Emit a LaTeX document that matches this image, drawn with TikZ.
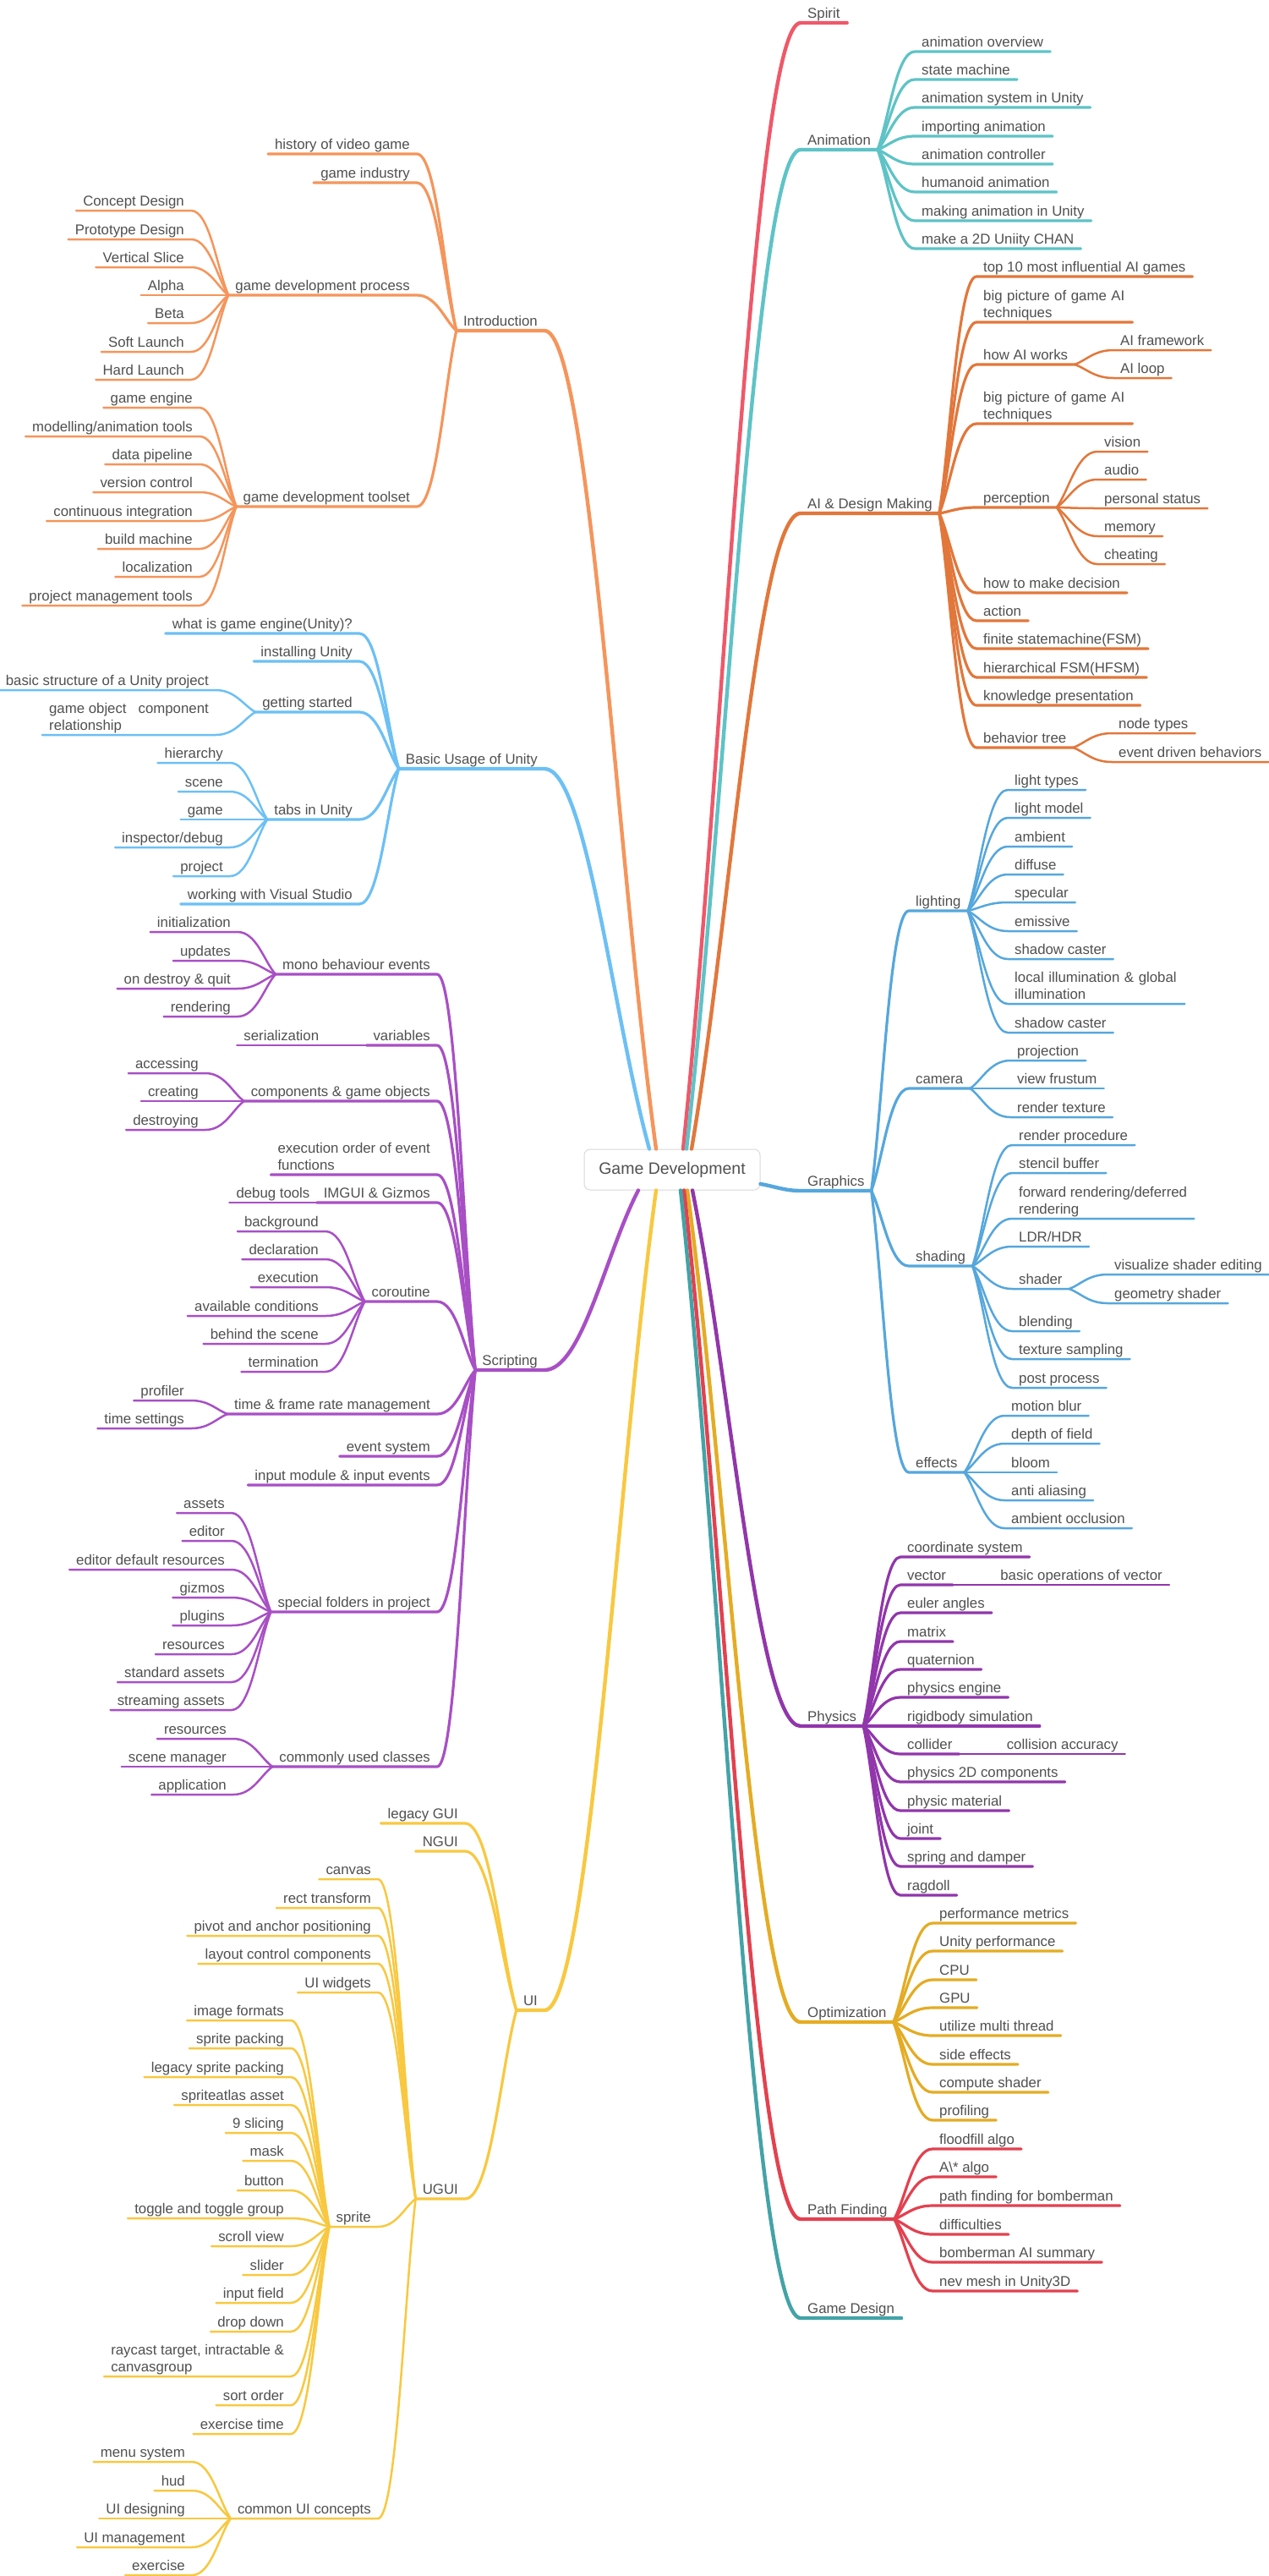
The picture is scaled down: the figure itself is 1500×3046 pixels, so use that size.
\documentclass[tikz,border=0pt]{standalone}
\usepackage{fontspec}
\setmainfont{Liberation Sans}
\usepackage{xcolor}
\usepackage{tikz}
\usetikzlibrary{calc,positioning}
\definecolor{MapInk}{HTML}{505050}
\definecolor{MapFrame}{HTML}{DADADA}
\definecolor{IntroOrange}{HTML}{F5955B}
\definecolor{UnityBlue}{HTML}{6CC0F4}
\definecolor{ScriptPurple}{HTML}{A84FC5}
\definecolor{UiYellow}{HTML}{F8C840}
\definecolor{SpiritRed}{HTML}{EF5869}
\definecolor{AnimTeal}{HTML}{5EC3C6}
\definecolor{AiOrange}{HTML}{E2773B}
\definecolor{GfxBlue}{HTML}{55A7DC}
\definecolor{PhysPurple}{HTML}{9136AB}
\definecolor{OptGold}{HTML}{E4AC24}
\definecolor{PathRed}{HTML}{E3414F}
\definecolor{DesignTeal}{HTML}{43A3A7}
\newcommand{\lastdepth}{\rule[-5pt]{0pt}{5pt}}

\begin{document}
\begin{tikzpicture}[
  x=1pt, y=-1pt,
  topic/.style={font=\fontsize{16.8}{20}\selectfont, text=MapInk, inner xsep=8pt, inner ysep=0pt},
  oneline/.style={topic, text height=12pt, text depth=5pt},
  twoline/.style={topic, align=left},
  rnode/.style={oneline, anchor=south west},
  lnode/.style={oneline, anchor=south east},
  rtwo/.style={twoline, anchor=south west},
  ltwo/.style={twoline, anchor=south east},
  rootbox/.style={draw=MapFrame, line width=1pt, rounded corners=7pt, fill=white, font=\fontsize{19.5}{23}\selectfont, text=MapInk, minimum width=208pt, minimum height=48pt},
  trunkw/.style={line width=4.4pt, line cap=round, line join=round},
  branchw/.style={line width=3.2pt, line cap=round, line join=round},
  leafw/.style={line width=2.5pt, line cap=round, line join=round},
  bough/.style={to path={.. controls ($(\tikztostart)!0.35!(\tikztotarget)$) and ($(\tikztotarget)!0.4!(\tikztostart|-\tikztotarget)$) .. (\tikztotarget)}},
  twig/.style={to path={.. controls ($(\tikztostart)!0.3!(\tikztotarget)$) and ($(\tikztotarget)!0.5!(\tikztostart|-\tikztotarget)$) .. (\tikztotarget)}}
]
  \fill[white] (0,0) rectangle (1500,3046);
  \useasboundingbox (0,0) rectangle (1500,3046);

  \node[rootbox] (root) at (795,1383) {Game Development};
  \coordinate (basicsFoot) at ([xshift=-27pt]root.north);
  \coordinate (introFoot) at ([xshift=-19pt]root.north);
  \coordinate (spiritFoot) at ([xshift=13pt]root.north);
  \coordinate (animFoot) at ([xshift=17pt]root.north);
  \coordinate (aiFoot) at ([xshift=23pt]root.north);
  \coordinate (gfxFoot) at ([yshift=-17pt]root.east);
  \coordinate (scriptFoot) at ([xshift=-40pt]root.south);
  \coordinate (uiFoot) at ([xshift=-19pt]root.south);
  \coordinate (designFoot) at ([xshift=10pt]root.south);
  \coordinate (pathFoot) at ([xshift=14pt]root.south);
  \coordinate (optFoot) at ([xshift=18pt]root.south);
  \coordinate (physFoot) at ([xshift=24pt]root.south);

  % Introduction
  \node[lnode] (intro) at (644,391) {Introduction};
  \node[lnode] (history) at (493,182) {history of video game};
  \node[lnode] (industry) at (493,216) {game industry};
  \node[lnode] (process) at (493,349) {game development process};
  \node[lnode] (concept) at (226,249) {Concept Design};
  \node[lnode] (prototype) at (226,283) {Prototype Design};
  \node[lnode] (vslice) at (226,316) {Vertical Slice};
  \node[lnode] (alpha) at (226,349) {Alpha};
  \node[lnode] (beta) at (226,382) {Beta};
  \node[lnode] (soft) at (226,416) {Soft Launch};
  \node[lnode] (hard) at (226,449) {Hard Launch};
  \node[lnode] (toolset) at (493,599) {game development toolset};
  \node[lnode] (engine) at (236,482) {game engine};
  \node[lnode] (modelling) at (236,516) {modelling/animation tools};
  \node[lnode] (pipeline) at (236,549) {data pipeline};
  \node[lnode] (version) at (236,582) {version control};
  \node[lnode] (ci) at (236,616) {continuous integration};
  \node[lnode] (buildm) at (236,649) {build machine};
  \node[lnode] (localize) at (236,682) {localization};
  \node[lnode] (pmtools) at (236,716) {project management tools};

  \draw[trunkw, IntroOrange] (introFoot) to[bough] (intro.south east) -- (intro.south west);
  \draw[branchw, IntroOrange] (intro.south west) to[twig] (history.south east) -- (history.south west);
  \draw[branchw, IntroOrange] (intro.south west) to[twig] (industry.south east) -- (industry.south west);
  \draw[branchw, IntroOrange] (intro.south west) to[twig] (process.south east) -- (process.south west);
  \draw[branchw, IntroOrange] (intro.south west) to[twig] (toolset.south east) -- (toolset.south west);
  \draw[leafw, IntroOrange] (process.south west) to[twig] (concept.south east) -- (concept.south west);
  \draw[leafw, IntroOrange] (process.south west) to[twig] (prototype.south east) -- (prototype.south west);
  \draw[leafw, IntroOrange] (process.south west) to[twig] (vslice.south east) -- (vslice.south west);
  \draw[leafw, IntroOrange] (process.south west) to[twig] (alpha.south east) -- (alpha.south west);
  \draw[leafw, IntroOrange] (process.south west) to[twig] (beta.south east) -- (beta.south west);
  \draw[leafw, IntroOrange] (process.south west) to[twig] (soft.south east) -- (soft.south west);
  \draw[leafw, IntroOrange] (process.south west) to[twig] (hard.south east) -- (hard.south west);
  \draw[leafw, IntroOrange] (toolset.south west) to[twig] (engine.south east) -- (engine.south west);
  \draw[leafw, IntroOrange] (toolset.south west) to[twig] (modelling.south east) -- (modelling.south west);
  \draw[leafw, IntroOrange] (toolset.south west) to[twig] (pipeline.south east) -- (pipeline.south west);
  \draw[leafw, IntroOrange] (toolset.south west) to[twig] (version.south east) -- (version.south west);
  \draw[leafw, IntroOrange] (toolset.south west) to[twig] (ci.south east) -- (ci.south west);
  \draw[leafw, IntroOrange] (toolset.south west) to[twig] (buildm.south east) -- (buildm.south west);
  \draw[leafw, IntroOrange] (toolset.south west) to[twig] (localize.south east) -- (localize.south west);
  \draw[leafw, IntroOrange] (toolset.south west) to[twig] (pmtools.south east) -- (pmtools.south west);

  % Basic Usage of Unity
  \node[lnode] (basics) at (644,909) {Basic Usage of Unity};
  \node[lnode] (whatis) at (425,749) {what is game engine(Unity)?};
  \node[lnode] (install) at (425,782) {installing Unity};
  \node[lnode] (started) at (425,842) {getting started};
  \node[lnode] (structure) at (255,816) {basic structure of a Unity project};
  \node[ltwo] (gocomp) at (255,869) {game object\hspace{14pt}component\\relationship\lastdepth};
  \node[lnode] (tabs) at (425,969) {tabs in Unity};
  \node[lnode] (hierarchy) at (272,902) {hierarchy};
  \node[lnode] (scenetab) at (272,936) {scene};
  \node[lnode] (gametab) at (272,969) {game};
  \node[lnode] (inspector) at (272,1002) {inspector/debug};
  \node[lnode] (projecttab) at (272,1036) {project};
  \node[lnode] (vstudio) at (425,1069) {working with Visual Studio};

  \draw[trunkw, UnityBlue] (basicsFoot) to[bough] (basics.south east) -- (basics.south west);
  \draw[branchw, UnityBlue] (basics.south west) to[twig] (whatis.south east) -- (whatis.south west);
  \draw[branchw, UnityBlue] (basics.south west) to[twig] (install.south east) -- (install.south west);
  \draw[branchw, UnityBlue] (basics.south west) to[twig] (started.south east) -- (started.south west);
  \draw[branchw, UnityBlue] (basics.south west) to[twig] (tabs.south east) -- (tabs.south west);
  \draw[branchw, UnityBlue] (basics.south west) to[twig] (vstudio.south east) -- (vstudio.south west);
  \draw[leafw, UnityBlue] (started.south west) to[twig] (structure.south east) -- (structure.south west);
  \draw[leafw, UnityBlue] (started.south west) to[twig] (gocomp.south east) -- (gocomp.south west);
  \draw[leafw, UnityBlue] (tabs.south west) to[twig] (hierarchy.south east) -- (hierarchy.south west);
  \draw[leafw, UnityBlue] (tabs.south west) to[twig] (scenetab.south east) -- (scenetab.south west);
  \draw[leafw, UnityBlue] (tabs.south west) to[twig] (gametab.south east) -- (gametab.south west);
  \draw[leafw, UnityBlue] (tabs.south west) to[twig] (inspector.south east) -- (inspector.south west);
  \draw[leafw, UnityBlue] (tabs.south west) to[twig] (projecttab.south east) -- (projecttab.south west);

  % Scripting
  \node[lnode] (scripting) at (644,1620) {Scripting};
  \node[lnode] (mono) at (517,1152) {mono behaviour events};
  \node[lnode] (init) at (281,1102) {initialization};
  \node[lnode] (updates) at (281,1136) {updates};
  \node[lnode] (ondestroy) at (281,1169) {on destroy \& quit};
  \node[lnode] (rendering) at (281,1202) {rendering};
  \node[lnode] (variables) at (517,1236) {variables};
  \node[lnode, left=48pt of variables.south west, anchor=south east] (serial) {serialization};
  \node[lnode] (components) at (517,1302) {components \& game objects};
  \node[lnode] (accessing) at (243,1269) {accessing};
  \node[lnode] (creating) at (243,1302) {creating};
  \node[lnode] (destroying) at (243,1336) {destroying};
  \node[ltwo] (execorder) at (517,1389) {execution order of event\\functions\lastdepth};
  \node[lnode] (imgui) at (517,1422) {IMGUI \& Gizmos};
  \node[lnode] (debugtools) at (imgui.south west) {debug tools};
  \node[lnode] (coroutine) at (517,1539) {coroutine};
  \node[lnode] (background) at (385,1456) {background};
  \node[lnode] (declaration) at (385,1489) {declaration};
  \node[lnode] (execution) at (385,1522) {execution};
  \node[lnode] (conditions) at (385,1556) {available conditions};
  \node[lnode] (behind) at (385,1589) {behind the scene};
  \node[lnode] (termination) at (385,1622) {termination};
  \node[lnode] (timing) at (517,1672) {time \& frame rate management};
  \node[lnode] (profiler) at (226,1656) {profiler};
  \node[lnode] (timeset) at (226,1689) {time settings};
  \node[lnode] (events) at (517,1722) {event system};
  \node[lnode] (inputmod) at (517,1756) {input module \& input events};
  \node[lnode] (special) at (517,1906) {special folders in project};
  \node[lnode] (assets) at (274,1789) {assets};
  \node[lnode] (editor) at (274,1822) {editor};
  \node[lnode] (editordef) at (274,1856) {editor default resources};
  \node[lnode] (gizmos) at (274,1889) {gizmos};
  \node[lnode] (plugins) at (274,1922) {plugins};
  \node[lnode] (resfolder) at (274,1956) {resources};
  \node[lnode] (stdassets) at (274,1989) {standard assets};
  \node[lnode] (streaming) at (274,2022) {streaming assets};
  \node[lnode] (classes) at (517,2089) {commonly used classes};
  \node[lnode] (resclass) at (276,2056) {resources};
  \node[lnode] (scenemgr) at (276,2089) {scene manager};
  \node[lnode] (application) at (276,2122) {application};

  \draw[trunkw, ScriptPurple] (scriptFoot) to[bough] (scripting.south east) -- (scripting.south west);
  \draw[branchw, ScriptPurple] (scripting.south west) to[twig] (mono.south east) -- (mono.south west);
  \draw[branchw, ScriptPurple] (scripting.south west) to[twig] (variables.south east) -- (variables.south west);
  \draw[branchw, ScriptPurple] (scripting.south west) to[twig] (components.south east) -- (components.south west);
  \draw[branchw, ScriptPurple] (scripting.south west) to[twig] (execorder.south east) -- (execorder.south west);
  \draw[branchw, ScriptPurple] (scripting.south west) to[twig] (imgui.south east) -- (imgui.south west);
  \draw[branchw, ScriptPurple] (scripting.south west) to[twig] (coroutine.south east) -- (coroutine.south west);
  \draw[branchw, ScriptPurple] (scripting.south west) to[twig] (timing.south east) -- (timing.south west);
  \draw[branchw, ScriptPurple] (scripting.south west) to[twig] (events.south east) -- (events.south west);
  \draw[branchw, ScriptPurple] (scripting.south west) to[twig] (inputmod.south east) -- (inputmod.south west);
  \draw[branchw, ScriptPurple] (scripting.south west) to[twig] (special.south east) -- (special.south west);
  \draw[branchw, ScriptPurple] (scripting.south west) to[twig] (classes.south east) -- (classes.south west);
  \draw[leafw, ScriptPurple] (mono.south west) to[twig] (init.south east) -- (init.south west);
  \draw[leafw, ScriptPurple] (mono.south west) to[twig] (updates.south east) -- (updates.south west);
  \draw[leafw, ScriptPurple] (mono.south west) to[twig] (ondestroy.south east) -- (ondestroy.south west);
  \draw[leafw, ScriptPurple] (mono.south west) to[twig] (rendering.south east) -- (rendering.south west);
  \draw[leafw, ScriptPurple] (variables.south west) -- (serial.south east) -- (serial.south west);
  \draw[leafw, ScriptPurple] (components.south west) to[twig] (accessing.south east) -- (accessing.south west);
  \draw[leafw, ScriptPurple] (components.south west) to[twig] (creating.south east) -- (creating.south west);
  \draw[leafw, ScriptPurple] (components.south west) to[twig] (destroying.south east) -- (destroying.south west);
  \draw[leafw, ScriptPurple] (imgui.south west) -- (debugtools.south east) -- (debugtools.south west);
  \draw[leafw, ScriptPurple] (coroutine.south west) to[twig] (background.south east) -- (background.south west);
  \draw[leafw, ScriptPurple] (coroutine.south west) to[twig] (declaration.south east) -- (declaration.south west);
  \draw[leafw, ScriptPurple] (coroutine.south west) to[twig] (execution.south east) -- (execution.south west);
  \draw[leafw, ScriptPurple] (coroutine.south west) to[twig] (conditions.south east) -- (conditions.south west);
  \draw[leafw, ScriptPurple] (coroutine.south west) to[twig] (behind.south east) -- (behind.south west);
  \draw[leafw, ScriptPurple] (coroutine.south west) to[twig] (termination.south east) -- (termination.south west);
  \draw[leafw, ScriptPurple] (timing.south west) to[twig] (profiler.south east) -- (profiler.south west);
  \draw[leafw, ScriptPurple] (timing.south west) to[twig] (timeset.south east) -- (timeset.south west);
  \draw[leafw, ScriptPurple] (special.south west) to[twig] (assets.south east) -- (assets.south west);
  \draw[leafw, ScriptPurple] (special.south west) to[twig] (editor.south east) -- (editor.south west);
  \draw[leafw, ScriptPurple] (special.south west) to[twig] (editordef.south east) -- (editordef.south west);
  \draw[leafw, ScriptPurple] (special.south west) to[twig] (gizmos.south east) -- (gizmos.south west);
  \draw[leafw, ScriptPurple] (special.south west) to[twig] (plugins.south east) -- (plugins.south west);
  \draw[leafw, ScriptPurple] (special.south west) to[twig] (resfolder.south east) -- (resfolder.south west);
  \draw[leafw, ScriptPurple] (special.south west) to[twig] (stdassets.south east) -- (stdassets.south west);
  \draw[leafw, ScriptPurple] (special.south west) to[twig] (streaming.south east) -- (streaming.south west);
  \draw[leafw, ScriptPurple] (classes.south west) to[twig] (resclass.south east) -- (resclass.south west);
  \draw[leafw, ScriptPurple] (classes.south west) to[twig] (scenemgr.south east) -- (scenemgr.south west);
  \draw[leafw, ScriptPurple] (classes.south west) to[twig] (application.south east) -- (application.south west);

  % UI
  \node[lnode] (ui) at (644,2377) {UI};
  \node[lnode] (legacygui) at (550,2156) {legacy GUI};
  \node[lnode] (ngui) at (550,2189) {NGUI};
  \node[lnode] (ugui) at (550,2600) {UGUI};
  \node[lnode] (canvas) at (447,2222) {canvas};
  \node[lnode] (recttf) at (447,2256) {rect transform};
  \node[lnode] (pivot) at (447,2289) {pivot and anchor positioning};
  \node[lnode] (layout) at (447,2322) {layout control components};
  \node[lnode] (widgets) at (447,2356) {UI widgets};
  \node[lnode] (sprite) at (447,2633) {sprite};
  \node[lnode] (imgfmt) at (344,2389) {image formats};
  \node[lnode] (spack) at (344,2422) {sprite packing};
  \node[lnode] (oldpack) at (344,2456) {legacy sprite packing};
  \node[lnode] (atlas) at (344,2489) {spriteatlas asset};
  \node[lnode] (slicing) at (344,2522) {9 slicing};
  \node[lnode] (masknode) at (344,2555) {mask};
  \node[lnode] (button) at (344,2590) {button};
  \node[lnode] (toggle) at (344,2623) {toggle and toggle group};
  \node[lnode] (scroll) at (344,2656) {scroll view};
  \node[lnode] (slider) at (344,2690) {slider};
  \node[lnode] (inputfield) at (344,2723) {input field};
  \node[lnode] (dropdown) at (344,2757) {drop down};
  \node[ltwo] (raycast) at (344,2810) {raycast target, intractable \&\\canvasgroup\lastdepth};
  \node[lnode] (sortorder) at (344,2844) {sort order};
  \node[lnode] (extime) at (344,2878) {exercise time};
  \node[lnode] (uiconcepts) at (447,2978) {common UI concepts};
  \node[lnode] (menu) at (227,2911) {menu system};
  \node[lnode] (hud) at (227,2945) {hud};
  \node[lnode] (uidesign) at (227,2978) {UI designing};
  \node[lnode] (uimanage) at (227,3012) {UI management};
  \node[lnode] (exercise) at (227,3045) {exercise};

  \draw[trunkw, UiYellow] (uiFoot) to[bough] (ui.south east) -- (ui.south west);
  \draw[branchw, UiYellow] (ui.south west) to[twig] (legacygui.south east) -- (legacygui.south west);
  \draw[branchw, UiYellow] (ui.south west) to[twig] (ngui.south east) -- (ngui.south west);
  \draw[branchw, UiYellow] (ui.south west) to[twig] (ugui.south east) -- (ugui.south west);
  \draw[leafw, UiYellow] (ugui.south west) to[twig] (canvas.south east) -- (canvas.south west);
  \draw[leafw, UiYellow] (ugui.south west) to[twig] (recttf.south east) -- (recttf.south west);
  \draw[leafw, UiYellow] (ugui.south west) to[twig] (pivot.south east) -- (pivot.south west);
  \draw[leafw, UiYellow] (ugui.south west) to[twig] (layout.south east) -- (layout.south west);
  \draw[leafw, UiYellow] (ugui.south west) to[twig] (widgets.south east) -- (widgets.south west);
  \draw[leafw, UiYellow] (ugui.south west) to[twig] (sprite.south east) -- (sprite.south west);
  \draw[leafw, UiYellow] (ugui.south west) to[twig] (uiconcepts.south east) -- (uiconcepts.south west);
  \draw[leafw, UiYellow] (sprite.south west) to[twig] (imgfmt.south east) -- (imgfmt.south west);
  \draw[leafw, UiYellow] (sprite.south west) to[twig] (spack.south east) -- (spack.south west);
  \draw[leafw, UiYellow] (sprite.south west) to[twig] (oldpack.south east) -- (oldpack.south west);
  \draw[leafw, UiYellow] (sprite.south west) to[twig] (atlas.south east) -- (atlas.south west);
  \draw[leafw, UiYellow] (sprite.south west) to[twig] (slicing.south east) -- (slicing.south west);
  \draw[leafw, UiYellow] (sprite.south west) to[twig] (masknode.south east) -- (masknode.south west);
  \draw[leafw, UiYellow] (sprite.south west) to[twig] (button.south east) -- (button.south west);
  \draw[leafw, UiYellow] (sprite.south west) to[twig] (toggle.south east) -- (toggle.south west);
  \draw[leafw, UiYellow] (sprite.south west) to[twig] (scroll.south east) -- (scroll.south west);
  \draw[leafw, UiYellow] (sprite.south west) to[twig] (slider.south east) -- (slider.south west);
  \draw[leafw, UiYellow] (sprite.south west) to[twig] (inputfield.south east) -- (inputfield.south west);
  \draw[leafw, UiYellow] (sprite.south west) to[twig] (dropdown.south east) -- (dropdown.south west);
  \draw[leafw, UiYellow] (sprite.south west) to[twig] (raycast.south east) -- (raycast.south west);
  \draw[leafw, UiYellow] (sprite.south west) to[twig] (sortorder.south east) -- (sortorder.south west);
  \draw[leafw, UiYellow] (sprite.south west) to[twig] (extime.south east) -- (extime.south west);
  \draw[leafw, UiYellow] (uiconcepts.south west) to[twig] (menu.south east) -- (menu.south west);
  \draw[leafw, UiYellow] (uiconcepts.south west) to[twig] (hud.south east) -- (hud.south west);
  \draw[leafw, UiYellow] (uiconcepts.south west) to[twig] (uidesign.south east) -- (uidesign.south west);
  \draw[leafw, UiYellow] (uiconcepts.south west) to[twig] (uimanage.south east) -- (uimanage.south west);
  \draw[leafw, UiYellow] (uiconcepts.south west) to[twig] (exercise.south east) -- (exercise.south west);

  % Spirit and Animation
  \node[rnode] (spirit) at (947,27) {Spirit};
  \node[rnode] (anim) at (947,177) {Animation};
  \node[rnode] (animov) at (1082,61) {animation overview};
  \node[rnode] (statem) at (1082,94) {state machine};
  \node[rnode] (animsys) at (1082,127) {animation system in Unity};
  \node[rnode] (animimport) at (1082,161) {importing animation};
  \node[rnode] (animctrl) at (1082,194) {animation controller};
  \node[rnode] (humanoid) at (1082,227) {humanoid animation};
  \node[rnode] (animmake) at (1082,261) {making animation in Unity};
  \node[rnode] (chan) at (1082,294) {make a 2D Uniity CHAN};

  \draw[trunkw, SpiritRed] (spiritFoot) to[bough] (spirit.south west) -- (spirit.south east);
  \draw[trunkw, AnimTeal] (animFoot) to[bough] (anim.south west) -- (anim.south east);
  \draw[branchw, AnimTeal] (anim.south east) to[twig] (animov.south west) -- (animov.south east);
  \draw[branchw, AnimTeal] (anim.south east) to[twig] (statem.south west) -- (statem.south east);
  \draw[branchw, AnimTeal] (anim.south east) to[twig] (animsys.south west) -- (animsys.south east);
  \draw[branchw, AnimTeal] (anim.south east) to[twig] (animimport.south west) -- (animimport.south east);
  \draw[branchw, AnimTeal] (anim.south east) to[twig] (animctrl.south west) -- (animctrl.south east);
  \draw[branchw, AnimTeal] (anim.south east) to[twig] (humanoid.south west) -- (humanoid.south east);
  \draw[branchw, AnimTeal] (anim.south east) to[twig] (animmake.south west) -- (animmake.south east);
  \draw[branchw, AnimTeal] (anim.south east) to[twig] (chan.south west) -- (chan.south east);

  % AI & Design Making
  \node[rnode] (ai) at (947,607) {AI \& Design Making};
  \node[rnode] (topten) at (1155,327) {top 10 most influential AI games};
  \node[rtwo, text width=168pt] (bigpicA) at (1155,381) {big picture of game AI\\techniques\lastdepth};
  \node[rnode] (howai) at (1155,431) {how AI works};
  \node[rnode] (aiframe) at (1317,414) {AI framework};
  \node[rnode] (ailoop) at (1317,447) {AI loop};
  \node[rtwo, text width=168pt] (bigpicB) at (1155,501) {big picture of game AI\\techniques\lastdepth};
  \node[rnode] (perception) at (1155,600) {perception};
  \node[rnode] (vision) at (1298,534) {vision};
  \node[rnode] (audio) at (1298,567) {audio};
  \node[rnode] (status) at (1298,601) {personal status};
  \node[rnode] (memory) at (1298,634) {memory};
  \node[rnode] (cheating) at (1298,667) {cheating};
  \node[rnode] (decision) at (1155,701) {how to make decision};
  \node[rnode] (action) at (1155,734) {action};
  \node[rnode] (fsm) at (1155,767) {finite statemachine(FSM)};
  \node[rnode] (hfsm) at (1155,801) {hierarchical FSM(HFSM)};
  \node[rnode] (knowledge) at (1155,834) {knowledge presentation};
  \node[rnode] (btree) at (1155,884) {behavior tree};
  \node[rnode] (nodetypes) at (1315,867) {node types};
  \node[rnode] (eventdriven) at (1315,901) {event driven behaviors};

  \draw[trunkw, AiOrange] (aiFoot) to[bough] (ai.south west) -- (ai.south east);
  \draw[branchw, AiOrange] (ai.south east) to[twig] (topten.south west) -- (topten.south east);
  \draw[branchw, AiOrange] (ai.south east) to[twig] (bigpicA.south west) -- (bigpicA.south east);
  \draw[branchw, AiOrange] (ai.south east) to[twig] (howai.south west) -- (howai.south east);
  \draw[branchw, AiOrange] (ai.south east) to[twig] (bigpicB.south west) -- (bigpicB.south east);
  \draw[branchw, AiOrange] (ai.south east) to[twig] (perception.south west) -- (perception.south east);
  \draw[branchw, AiOrange] (ai.south east) to[twig] (decision.south west) -- (decision.south east);
  \draw[branchw, AiOrange] (ai.south east) to[twig] (action.south west) -- (action.south east);
  \draw[branchw, AiOrange] (ai.south east) to[twig] (fsm.south west) -- (fsm.south east);
  \draw[branchw, AiOrange] (ai.south east) to[twig] (hfsm.south west) -- (hfsm.south east);
  \draw[branchw, AiOrange] (ai.south east) to[twig] (knowledge.south west) -- (knowledge.south east);
  \draw[branchw, AiOrange] (ai.south east) to[twig] (btree.south west) -- (btree.south east);
  \draw[leafw, AiOrange] (howai.south east) to[twig] (aiframe.south west) -- (aiframe.south east);
  \draw[leafw, AiOrange] (howai.south east) to[twig] (ailoop.south west) -- (ailoop.south east);
  \draw[leafw, AiOrange] (perception.south east) to[twig] (vision.south west) -- (vision.south east);
  \draw[leafw, AiOrange] (perception.south east) to[twig] (audio.south west) -- (audio.south east);
  \draw[leafw, AiOrange] (perception.south east) to[twig] (status.south west) -- (status.south east);
  \draw[leafw, AiOrange] (perception.south east) to[twig] (memory.south west) -- (memory.south east);
  \draw[leafw, AiOrange] (perception.south east) to[twig] (cheating.south west) -- (cheating.south east);
  \draw[leafw, AiOrange] (btree.south east) to[twig] (nodetypes.south west) -- (nodetypes.south east);
  \draw[leafw, AiOrange] (btree.south east) to[twig] (eventdriven.south west) -- (eventdriven.south east);

  % Graphics
  \node[rnode] (graphics) at (947,1408) {Graphics};
  \node[rnode] (lighting) at (1075,1077) {lighting};
  \node[rnode] (lighttypes) at (1192,934) {light types};
  \node[rnode] (lightmodel) at (1192,967) {light model};
  \node[rnode] (ambient) at (1192,1001) {ambient};
  \node[rnode] (diffuse) at (1192,1034) {diffuse};
  \node[rnode] (specular) at (1192,1067) {specular};
  \node[rnode] (emissive) at (1192,1101) {emissive};
  \node[rnode] (shadowA) at (1192,1134) {shadow caster};
  \node[rtwo, text width=193pt] (illum) at (1192,1187) {local illumination \& global\\illumination\lastdepth};
  \node[rnode] (shadowB) at (1192,1221) {shadow caster};
  \node[rnode] (camera) at (1075,1287) {camera};
  \node[rnode] (projection) at (1195,1254) {projection};
  \node[rnode] (frustum) at (1195,1287) {view frustum};
  \node[rnode] (rtexture) at (1195,1321) {render texture};
  \node[rnode] (shading) at (1075,1497) {shading};
  \node[rnode] (renderproc) at (1197,1354) {render procedure};
  \node[rnode] (stencil) at (1197,1387) {stencil buffer};
  \node[rtwo] (forward) at (1197,1441) {forward rendering/deferred\\rendering\lastdepth};
  \node[rnode] (ldr) at (1197,1474) {LDR/HDR};
  \node[rnode] (shader) at (1197,1524) {shader};
  \node[rnode] (visualize) at (1310,1507) {visualize shader editing};
  \node[rnode] (geoshader) at (1310,1541) {geometry shader};
  \node[rnode] (blending) at (1197,1574) {blending};
  \node[rnode] (texsample) at (1197,1607) {texture sampling};
  \node[rnode] (postproc) at (1197,1641) {post process};
  \node[rnode] (effects) at (1075,1741) {effects};
  \node[rnode] (motionblur) at (1188,1674) {motion blur};
  \node[rnode] (dof) at (1188,1707) {depth of field};
  \node[rnode] (bloom) at (1188,1741) {bloom};
  \node[rnode] (antialias) at (1188,1774) {anti aliasing};
  \node[rnode] (ao) at (1188,1807) {ambient occlusion};

  \draw[trunkw, GfxBlue] (gfxFoot) to[bough] (graphics.south west) -- (graphics.south east);
  \draw[branchw, GfxBlue] (graphics.south east) to[twig] (lighting.south west) -- (lighting.south east);
  \draw[branchw, GfxBlue] (graphics.south east) to[twig] (camera.south west) -- (camera.south east);
  \draw[branchw, GfxBlue] (graphics.south east) to[twig] (shading.south west) -- (shading.south east);
  \draw[branchw, GfxBlue] (graphics.south east) to[twig] (effects.south west) -- (effects.south east);
  \draw[leafw, GfxBlue] (lighting.south east) to[twig] (lighttypes.south west) -- (lighttypes.south east);
  \draw[leafw, GfxBlue] (lighting.south east) to[twig] (lightmodel.south west) -- (lightmodel.south east);
  \draw[leafw, GfxBlue] (lighting.south east) to[twig] (ambient.south west) -- (ambient.south east);
  \draw[leafw, GfxBlue] (lighting.south east) to[twig] (diffuse.south west) -- (diffuse.south east);
  \draw[leafw, GfxBlue] (lighting.south east) to[twig] (specular.south west) -- (specular.south east);
  \draw[leafw, GfxBlue] (lighting.south east) to[twig] (emissive.south west) -- (emissive.south east);
  \draw[leafw, GfxBlue] (lighting.south east) to[twig] (shadowA.south west) -- (shadowA.south east);
  \draw[leafw, GfxBlue] (lighting.south east) to[twig] (illum.south west) -- (illum.south east);
  \draw[leafw, GfxBlue] (lighting.south east) to[twig] (shadowB.south west) -- (shadowB.south east);
  \draw[leafw, GfxBlue] (camera.south east) to[twig] (projection.south west) -- (projection.south east);
  \draw[leafw, GfxBlue] (camera.south east) to[twig] (frustum.south west) -- (frustum.south east);
  \draw[leafw, GfxBlue] (camera.south east) to[twig] (rtexture.south west) -- (rtexture.south east);
  \draw[leafw, GfxBlue] (shading.south east) to[twig] (renderproc.south west) -- (renderproc.south east);
  \draw[leafw, GfxBlue] (shading.south east) to[twig] (stencil.south west) -- (stencil.south east);
  \draw[leafw, GfxBlue] (shading.south east) to[twig] (forward.south west) -- (forward.south east);
  \draw[leafw, GfxBlue] (shading.south east) to[twig] (ldr.south west) -- (ldr.south east);
  \draw[leafw, GfxBlue] (shading.south east) to[twig] (shader.south west) -- (shader.south east);
  \draw[leafw, GfxBlue] (shading.south east) to[twig] (blending.south west) -- (blending.south east);
  \draw[leafw, GfxBlue] (shading.south east) to[twig] (texsample.south west) -- (texsample.south east);
  \draw[leafw, GfxBlue] (shading.south east) to[twig] (postproc.south west) -- (postproc.south east);
  \draw[leafw, GfxBlue] (shader.south east) to[twig] (visualize.south west) -- (visualize.south east);
  \draw[leafw, GfxBlue] (shader.south east) to[twig] (geoshader.south west) -- (geoshader.south east);
  \draw[leafw, GfxBlue] (effects.south east) to[twig] (motionblur.south west) -- (motionblur.south east);
  \draw[leafw, GfxBlue] (effects.south east) to[twig] (dof.south west) -- (dof.south east);
  \draw[leafw, GfxBlue] (effects.south east) to[twig] (bloom.south west) -- (bloom.south east);
  \draw[leafw, GfxBlue] (effects.south east) to[twig] (antialias.south west) -- (antialias.south east);
  \draw[leafw, GfxBlue] (effects.south east) to[twig] (ao.south west) -- (ao.south east);

  % Physics
  \node[rnode] (physics) at (947,2041) {Physics};
  \node[rnode] (coords) at (1065,1841) {coordinate system};
  \node[rnode] (vector) at (1065,1874) {vector};
  \node[rnode, right=48pt of vector.south east, anchor=south west] (vecops) {basic operations of vector};
  \node[rnode] (euler) at (1065,1907) {euler angles};
  \node[rnode] (matrixnode) at (1065,1941) {matrix};
  \node[rnode] (quaternion) at (1065,1974) {quaternion};
  \node[rnode] (physengine) at (1065,2007) {physics engine};
  \node[rnode] (rigidbody) at (1065,2041) {rigidbody simulation};
  \node[rnode] (collider) at (1065,2074) {collider};
  \node[rnode, right=48pt of collider.south east, anchor=south west] (accuracy) {collision accuracy};
  \node[rnode] (phys2d) at (1065,2107) {physics 2D components};
  \node[rnode] (physmat) at (1065,2141) {physic material};
  \node[rnode] (joint) at (1065,2174) {joint};
  \node[rnode] (spring) at (1065,2207) {spring and damper};
  \node[rnode] (ragdoll) at (1065,2241) {ragdoll};

  \draw[trunkw, PhysPurple] (physFoot) to[bough] (physics.south west) -- (physics.south east);
  \draw[branchw, PhysPurple] (physics.south east) to[twig] (coords.south west) -- (coords.south east);
  \draw[branchw, PhysPurple] (physics.south east) to[twig] (vector.south west) -- (vector.south east);
  \draw[branchw, PhysPurple] (physics.south east) to[twig] (euler.south west) -- (euler.south east);
  \draw[branchw, PhysPurple] (physics.south east) to[twig] (matrixnode.south west) -- (matrixnode.south east);
  \draw[branchw, PhysPurple] (physics.south east) to[twig] (quaternion.south west) -- (quaternion.south east);
  \draw[branchw, PhysPurple] (physics.south east) to[twig] (physengine.south west) -- (physengine.south east);
  \draw[branchw, PhysPurple] (physics.south east) to[twig] (rigidbody.south west) -- (rigidbody.south east);
  \draw[branchw, PhysPurple] (physics.south east) to[twig] (collider.south west) -- (collider.south east);
  \draw[branchw, PhysPurple] (physics.south east) to[twig] (phys2d.south west) -- (phys2d.south east);
  \draw[branchw, PhysPurple] (physics.south east) to[twig] (physmat.south west) -- (physmat.south east);
  \draw[branchw, PhysPurple] (physics.south east) to[twig] (joint.south west) -- (joint.south east);
  \draw[branchw, PhysPurple] (physics.south east) to[twig] (spring.south west) -- (spring.south east);
  \draw[branchw, PhysPurple] (physics.south east) to[twig] (ragdoll.south west) -- (ragdoll.south east);
  \draw[leafw, PhysPurple] (vector.south east) -- (vecops.south west) -- (vecops.south east);
  \draw[leafw, PhysPurple] (collider.south east) -- (accuracy.south west) -- (accuracy.south east);

  % Optimization
  \node[rnode] (optim) at (947,2391) {Optimization};
  \node[rnode] (metrics) at (1103,2274) {performance metrics};
  \node[rnode] (unityperf) at (1103,2307) {Unity performance};
  \node[rnode] (cpu) at (1103,2341) {CPU};
  \node[rnode] (gpu) at (1103,2374) {GPU};
  \node[rnode] (threads) at (1103,2407) {utilize multi thread};
  \node[rnode] (sidefx) at (1103,2441) {side effects};
  \node[rnode] (compute) at (1103,2474) {compute shader};
  \node[rnode] (profiling) at (1103,2507) {profiling};

  \draw[trunkw, OptGold] (optFoot) to[bough] (optim.south west) -- (optim.south east);
  \draw[branchw, OptGold] (optim.south east) to[twig] (metrics.south west) -- (metrics.south east);
  \draw[branchw, OptGold] (optim.south east) to[twig] (unityperf.south west) -- (unityperf.south east);
  \draw[branchw, OptGold] (optim.south east) to[twig] (cpu.south west) -- (cpu.south east);
  \draw[branchw, OptGold] (optim.south east) to[twig] (gpu.south west) -- (gpu.south east);
  \draw[branchw, OptGold] (optim.south east) to[twig] (threads.south west) -- (threads.south east);
  \draw[branchw, OptGold] (optim.south east) to[twig] (sidefx.south west) -- (sidefx.south east);
  \draw[branchw, OptGold] (optim.south east) to[twig] (compute.south west) -- (compute.south east);
  \draw[branchw, OptGold] (optim.south east) to[twig] (profiling.south west) -- (profiling.south east);

  % Path Finding and Game Design
  \node[rnode] (pathfind) at (947,2624) {Path Finding};
  \node[rnode] (floodfill) at (1103,2541) {floodfill algo};
  \node[rnode] (astar) at (1103,2574) {A\textbackslash* algo};
  \node[rnode] (bomberpath) at (1103,2608) {path finding for bomberman};
  \node[rnode] (difficulty) at (1103,2642) {difficulties};
  \node[rnode] (bombersum) at (1103,2675) {bomberman AI summary};
  \node[rnode] (navmesh) at (1103,2709) {nev mesh in Unity3D};
  \node[rnode] (gamedesign) at (947,2741) {Game Design};

  \draw[trunkw, PathRed] (pathFoot) to[bough] (pathfind.south west) -- (pathfind.south east);
  \draw[branchw, PathRed] (pathfind.south east) to[twig] (floodfill.south west) -- (floodfill.south east);
  \draw[branchw, PathRed] (pathfind.south east) to[twig] (astar.south west) -- (astar.south east);
  \draw[branchw, PathRed] (pathfind.south east) to[twig] (bomberpath.south west) -- (bomberpath.south east);
  \draw[branchw, PathRed] (pathfind.south east) to[twig] (difficulty.south west) -- (difficulty.south east);
  \draw[branchw, PathRed] (pathfind.south east) to[twig] (bombersum.south west) -- (bombersum.south east);
  \draw[branchw, PathRed] (pathfind.south east) to[twig] (navmesh.south west) -- (navmesh.south east);
  \draw[trunkw, DesignTeal] (designFoot) to[bough] (gamedesign.south west) -- (gamedesign.south east);
\end{tikzpicture}
\end{document}
